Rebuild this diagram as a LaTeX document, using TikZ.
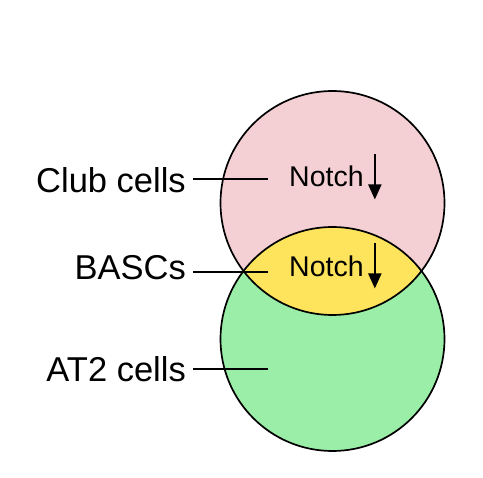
\documentclass[tikz,border=0pt]{standalone}
\usepackage{fontspec}
\setmainfont{Liberation Sans}
\usetikzlibrary{positioning,arrows.meta}
\definecolor{clubpink}{RGB}{244,208,212}
\definecolor{bascyellow}{RGB}{253,228,92}
\definecolor{atgreen}{RGB}{154,238,167}
\tikzset{
    % Cell type labels
    node_lbl/.style = {anchor=base east, inner sep=0pt, font=\fontsize{34.5}{40}\selectfont},
    % Notch labels inside the circles
    node_notch/.style = {anchor=base west, inner sep=0pt, font=\fontsize{28.5}{34}\selectfont},
    cell_ring/.style = {draw=black, line width=1.7pt},
    lbl_line/.style = {line width=2pt},
    down_arrow/.style = {line width=2pt, -{Triangle[length=15pt,width=13pt]}}
}

\begin{document}
\begin{tikzpicture}[x=1pt, y=-1pt]

        \useasboundingbox (0,0) rectangle (483,478);

        % circles
        \fill[clubpink] (332.5,203) circle[radius=112];
        \fill[atgreen] (332.5,339) circle[radius=112];
        \begin{scope}
            \clip (332.5,203) circle[radius=112];
            \fill[bascyellow] (332.5,339) circle[radius=112];
        \end{scope}
        \draw[cell_ring] (332.5,203) circle[radius=112];
        \draw[cell_ring] (332.5,339) circle[radius=112];

        % labels
        \node[node_lbl] (club_lbl) at (186,193) {Club cells};
        \node[node_lbl] (basc_lbl) at (186,280) {BASCs};
        \node[node_lbl] (at2_lbl) at (186,382) {AT2 cells};

        \coordinate (club_end) at (268,179);
        \coordinate (basc_end) at (268,272);
        \coordinate (at2_end) at (268,369);

        \draw[lbl_line] ([xshift=7pt]club_end -| club_lbl.east) -- (club_end);
        \draw[lbl_line] ([xshift=7pt]basc_end -| basc_lbl.east) -- (basc_end);
        \draw[lbl_line] ([xshift=7pt]at2_end -| at2_lbl.east) -- (at2_end);

        % Notch
        \node[node_notch] (notch_top) at (289,187) {Notch};
        \node[node_notch] (notch_mid) at (289,277) {Notch};

        \draw[down_arrow] ([xshift=11pt,yshift=12pt]notch_top.north east) -- ([xshift=11pt,yshift=-12pt]notch_top.south east);
        \draw[down_arrow] ([xshift=11pt,yshift=13pt]notch_mid.north east) -- ([xshift=11pt,yshift=-11pt]notch_mid.south east);

    \end{tikzpicture}
\end{document}
